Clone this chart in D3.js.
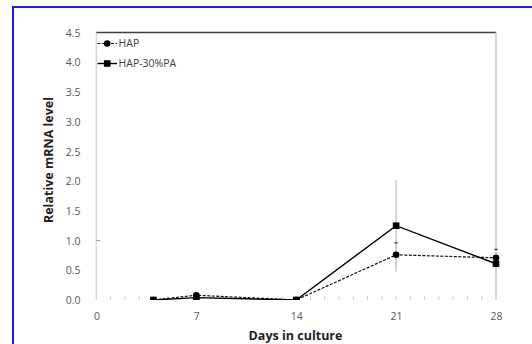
<!DOCTYPE html>
<html><head><meta charset="utf-8">
<script src="https://cdn.jsdelivr.net/npm/d3@7"></script>
<style>body{margin:0;background:#fff}svg{display:block}</style>
</head><body>
<script>
// Data
const days = [4, 7, 14, 21, 28];
const hap = [0.0, 0.08, 0.0, 0.76, 0.71];
const hapErr = [0, 0, 0, 0.2, 0.14];
const hapPA = [0.0, 0.04, 0.0, 1.25, 0.61];
const hapPAErr = [0, 0, 0, 0.77, 3.95];
const xTicks = [0, 7, 14, 21, 28];
const yTicks = [0, 0.5, 1, 1.5, 2, 2.5, 3, 3.5, 4, 4.5];
const yMajorMark = [1.0];
const seriesNames = ["HAP", "HAP-30%PA"];

const W = 532, H = 344;
const svg = d3.select("body").append("svg").attr("width", W).attr("height", H);
svg.append("rect").attr("width", W).attr("height", H).attr("fill", "#fff");
// blue frame
svg.append("rect").attr("x", 13).attr("y", 7).attr("width", 600).attr("height", 400)
  .attr("fill", "none").attr("stroke", "#1a1aff").attr("stroke-width", 2);

const x = d3.scaleLinear().domain([0, 28]).range([96.4, 496]);
const y = d3.scaleLinear().domain([0, 4.5]).range([300, 32.5]);
const font = "'Open Sans', sans-serif";

svg.append("defs").append("clipPath").attr("id", "pc").append("rect")
  .attr("x", x(0) - 5).attr("y", y(4.5)).attr("width", x(28) - x(0) + 10).attr("height", y(0) - y(4.5));

// minor x ticks (every day)
svg.append("g").selectAll("line").data(d3.range(1, 28)).join("line")
  .attr("x1", d => x(d)).attr("x2", d => x(d)).attr("y1", 296).attr("y2", 300)
  .attr("stroke", "#d0d0d0").attr("stroke-width", 1);

// left axis line
svg.append("line").attr("x1", x(0)).attr("x2", x(0)).attr("y1", y(4.5)).attr("y2", y(0))
  .attr("stroke", "#d9d9d9").attr("stroke-width", 1.5);
// top line
svg.append("line").attr("x1", x(0)).attr("x2", x(28)).attr("y1", y(4.5)).attr("y2", y(4.5))
  .attr("stroke", "#404040").attr("stroke-width", 1.5);

// y axis labels
const yAxis = d3.axisLeft(y).tickValues(yTicks).tickSize(0).tickPadding(0).tickFormat(d3.format(".1f"));
const gy = svg.append("g").attr("transform", `translate(${x(0) - 16},0)`).call(yAxis);
gy.select(".domain").remove();
gy.selectAll("text").attr("font-family", font).attr("font-size", 10.5).attr("fill", "#595959").attr("dy", "0.35em");
// y tick mark
svg.append("g").selectAll("line").data(yMajorMark).join("line")
  .attr("x1", x(0)).attr("x2", x(0) + 4).attr("y1", d => y(d)).attr("y2", d => y(d))
  .attr("stroke", "#a0a0a0").attr("stroke-width", 1);

// x axis labels
const xAxis = d3.axisBottom(x).tickValues(xTicks).tickSize(0).tickPadding(0);
const gx = svg.append("g").attr("transform", `translate(0,313)`).call(xAxis);
gx.select(".domain").remove();
gx.selectAll("text").attr("font-family", font).attr("font-size", 10.5).attr("fill", "#595959").attr("dy", "0.71em");

// titles
svg.append("text").attr("x", 295.5).attr("y", 340).attr("text-anchor", "middle")
  .attr("font-family", font).attr("font-weight", "bold").attr("font-size", 12.5).attr("fill", "#222")
  .text("Days in culture");
svg.append("text").attr("transform", "translate(53,160) rotate(-90)").attr("text-anchor", "middle")
  .attr("font-family", font).attr("font-weight", "bold").attr("font-size", 12.5).attr("fill", "#222")
  .text("Relative mRNA level");

const plot = svg.append("g").attr("clip-path", "url(#pc)");

// error bars HAP-30%PA (gray)
plot.append("g").selectAll("line").data(days.map((d, i) => ({d, v: hapPA[i], e: hapPAErr[i]})).filter(o => o.e > 0))
  .join("line").attr("x1", o => x(o.d)).attr("x2", o => x(o.d))
  .attr("y1", o => y(o.v + o.e)).attr("y2", o => y(Math.max(0, o.v - o.e)))
  .attr("stroke", "#c8c8c8").attr("stroke-width", 1.5);
// error bars HAP
const hapE = days.map((d, i) => ({d, v: hap[i], e: hapErr[i]})).filter(o => o.e > 0);
plot.append("g").selectAll("line").data(hapE)
  .join("line").attr("x1", o => x(o.d)).attr("x2", o => x(o.d))
  .attr("y1", o => y(o.v + o.e)).attr("y2", o => y(o.v - o.e))
  .attr("stroke", "#c8c8c8").attr("stroke-width", 1.2);
plot.append("g").selectAll("line").data(hapE)
  .join("line").attr("x1", o => x(o.d) - 1.5).attr("x2", o => x(o.d) + 1.5)
  .attr("y1", o => y(o.v + o.e)).attr("y2", o => y(o.v + o.e))
  .attr("stroke", "#333").attr("stroke-width", 1.2);

const line = d3.line().x((d, i) => x(days[i])).y(d => y(d));
// HAP dashed
plot.append("path").datum(hap).attr("d", line).attr("fill", "none")
  .attr("stroke", "#111").attr("stroke-width", 1.2).attr("stroke-dasharray", "3,1.5");
plot.append("g").selectAll("circle").data(hap).join("circle")
  .attr("cx", (d, i) => x(days[i])).attr("cy", d => y(d)).attr("r", 3.3).attr("fill", "#000");
// HAP-30%PA solid
plot.append("path").datum(hapPA).attr("d", line).attr("fill", "none")
  .attr("stroke", "#000").attr("stroke-width", 1.4);
const s = 6.6;
plot.append("g").selectAll("rect").data(hapPA).join("rect")
  .attr("x", (d, i) => x(days[i]) - s / 2).attr("y", d => y(d) - s / 2)
  .attr("width", s).attr("height", s).attr("fill", "#000");

// legend
const lg = svg.append("g");
const ly = [43.5, 63.5];
lg.append("line").attr("x1", 97.5).attr("x2", 117).attr("y1", ly[0]).attr("y2", ly[0])
  .attr("stroke", "#111").attr("stroke-width", 1.2).attr("stroke-dasharray", "3,1.5");
lg.append("circle").attr("cx", 107.2).attr("cy", ly[0]).attr("r", 3.3).attr("fill", "#000");
lg.append("line").attr("x1", 97.5).attr("x2", 117).attr("y1", ly[1]).attr("y2", ly[1])
  .attr("stroke", "#000").attr("stroke-width", 1.4);
lg.append("rect").attr("x", 107.2 - s / 2).attr("y", ly[1] - s / 2).attr("width", s).attr("height", s).attr("fill", "#000");
lg.selectAll("text").data(seriesNames).join("text")
  .attr("x", 118.5).attr("y", (d, i) => ly[i]).attr("dy", "0.35em")
  .attr("font-family", font).attr("font-size", 10.5).attr("fill", "#404040").text(d => d);
</script>
</body></html>
